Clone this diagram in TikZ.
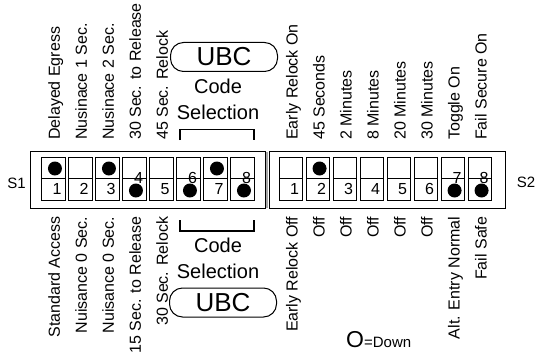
\documentclass[tikz,border=0pt]{standalone}
\usepackage{fontspec}
\setmainfont{Liberation Sans}
\begin{document}
\begin{tikzpicture}[x=1pt,y=-1pt,
  lbl/.style={font=\fontsize{16}{16}\selectfont, inner sep=0pt, rotate=90},
  num/.style={font=\fontsize{16}{16}\selectfont, inner sep=0pt, anchor=base},
  dotmark/.style={circle, fill=black, minimum size=14pt, inner sep=0pt},
  cellline/.style={draw, line width=0.7pt},
  boxline/.style={draw, line width=0.8pt},
  bracketline/.style={draw, line width=1.2pt},
  ubcbox/.style={draw, line width=1pt, rounded corners=13pt, minimum width=107pt, minimum height=29pt, inner sep=0pt, font=\fontsize{26}{26}\selectfont},
  codetext/.style={font=\fontsize{20}{20}\selectfont, inner sep=0pt, anchor=base},
  swlabel/.style={font=\fontsize{15}{15}\selectfont, inner sep=0pt}
]
\useasboundingbox (0,0) rectangle (536,353);
\fill[white] (0,0) rectangle (536,353);

% outer boxes
\draw[boxline] (30,151.5) rectangle (265,208);
\draw[gray!70, line width=2pt] (267.3,151.5) -- (267.3,208);
\draw[boxline] (269.5,151.5) rectangle (505,208);

% cells S1 and S2
\foreach \k in {0,...,7}{
  \pgfmathsetmacro{\xa}{41.7+27*\k}
  \pgfmathsetmacro{\xb}{279.3+27*\k}
  \draw[cellline] (\xa,157) rectangle (\xa+23.5,200.5);
  \draw[cellline] (\xa,178.5) -- (\xa+23.5,178.5);
  \draw[cellline] (\xb,157) rectangle (\xb+23.5,200.5);
  \draw[cellline] (\xb,178.5) -- (\xb+23.5,178.5);
}

% S1 numbers and dots
\foreach \k/\raised in {1/0,2/0,3/0,4/1,5/0,6/1,7/0,8/1}{
  \pgfmathsetmacro{\cx}{41.7+27*(\k-1)+11.75}
  \ifnum\raised=1
    \node[num] (an\k) at (\cx+4,183.5) {\k};
    \node[dotmark] (ad\k) at (\cx+1.5,190.5) {};
  \else
    \node[num] (an\k) at (\cx+3.5,194) {\k};
  \fi
}
\foreach \k in {1,3,7}{
  \pgfmathsetmacro{\cx}{41.7+27*(\k-1)+11.75}
  \node[dotmark] (au\k) at (\cx+1.5,168.5) {};
}

% S2 numbers and dots
\foreach \k/\raised in {1/0,2/0,3/0,4/0,5/0,6/0,7/1,8/1}{
  \pgfmathsetmacro{\cx}{279.3+27*(\k-1)+11.75}
  \ifnum\raised=1
    \node[num] (bn\k) at (\cx+4,183.5) {\k};
    \node[dotmark] (bd\k) at (\cx+1.5,190.5) {};
  \else
    \node[num] (bn\k) at (\cx+3.5,194) {\k};
  \fi
}
\node[dotmark] (bu2) at (279.3+27+11.75+1.5,168.5) {};

% side labels
\node[swlabel] (s1) at (16.5,183) {S1};
\node[swlabel] (s2) at (526,182) {S2};

% top labels S1
\foreach \k/\t in {1/Delayed Egress,2/Nusinace 1 Sec.,3/Nusinace 2 Sec.,4/30 Sec. to Release,5/45 Sec. Relock}{
  \pgfmathsetmacro{\cx}{41.7+27*(\k-1)+11.75}
  \node[lbl, anchor=base west] (at\k) at (\cx+6.5,140) {\t};
}
% bottom labels S1
\foreach \k/\t in {1/Standard Access,2/Nuisance 0 Sec.,3/Nuisance 0 Sec.,4/15 Sec. to Release,5/30 Sec. Relock}{
  \pgfmathsetmacro{\cx}{41.7+27*(\k-1)+11.75}
  \node[lbl, anchor=base east] (ab\k) at (\cx+6.5,216.5) {\t};
}
% top labels S2
\foreach \k/\t in {1/Early Relock On,2/45 Seconds,3/2 Minutes,4/8 Minutes,5/20 Minutes,6/30 Minutes,7/Toggle On,8/Fail Secure On}{
  \pgfmathsetmacro{\cx}{279.3+27*(\k-1)+11.75}
  \node[lbl, anchor=base west] (bt\k) at (\cx+6.5,140) {\t};
}
% bottom labels S2
\foreach \k/\t in {1/Early Relock Off,2/Off,3/Off,4/Off,5/Off,6/Off,7/Alt. Entry Normal,8/Fail Safe}{
  \pgfmathsetmacro{\cx}{279.3+27*(\k-1)+11.75}
  \node[lbl, anchor=base east] (bb\k) at (\cx+6.5,216.5) {\t};
}

% UBC code selection, top
\node[ubcbox] (ubctop) at (224,57) {UBC};
\node[codetext] (codetop) at (218,93.3) {Code};
\node[codetext] (seltop) at (218,119.3) {Selection};
\draw[bracketline] (180,140) -- (180,129.3) -- (254,129.3) -- (254,140);

% UBC code selection, bottom
\draw[bracketline] (180,220) -- (180,231) -- (254,231) -- (254,220);
\node[codetext] (codebot) at (218,252) {Code};
\node[codetext] (selbot) at (218,278) {Selection};
\node[ubcbox] (ubcbot) at (223,302.5) {UBC};

% legend
\node[inner sep=0pt, anchor=base west] (odown) at (346,347.5) {{\fontsize{23}{23}\selectfont O}{\fontsize{15}{15}\selectfont =Down}};
\end{tikzpicture}
\end{document}
